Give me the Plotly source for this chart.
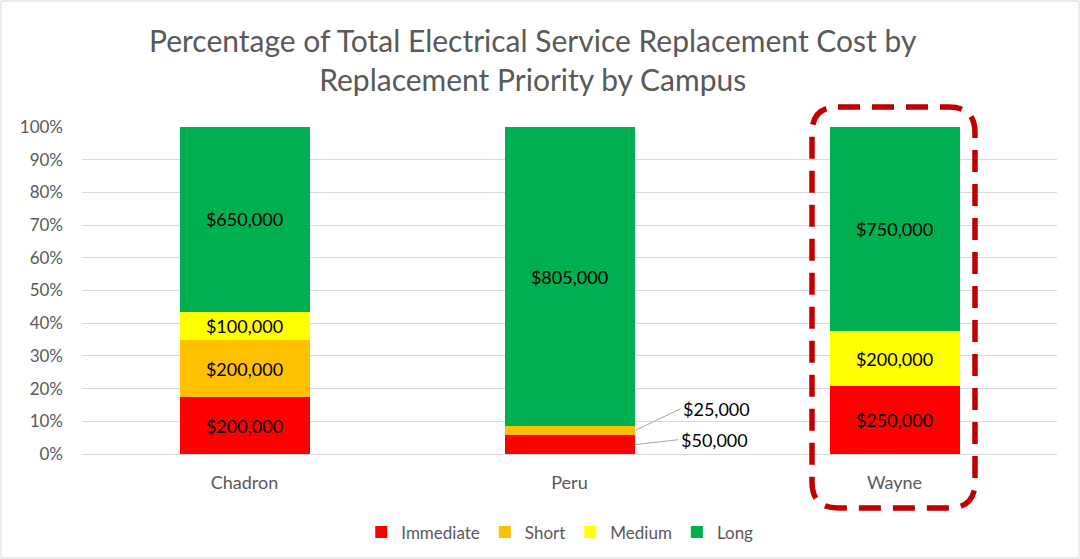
import plotly.graph_objects as go

campuses = ["Chadron", "Peru", "Wayne"]
priorities = ["Immediate", "Short", "Medium", "Long"]
immediate = [200000, 50000, 250000]
short = [200000, 25000, 0]
medium = [100000, 0, 200000]
long_ = [650000, 805000, 750000]
colors = {"Immediate": "#FF0000", "Short": "#FFC000", "Medium": "#FFFF00", "Long": "#00B050"}
series = {"Immediate": immediate, "Short": short, "Medium": medium, "Long": long_}
outside_campus = "Peru"  # small segments labelled outside with leader lines
title_text = "Percentage of Total Electrical Service Replacement Cost by<br>Replacement Priority by Campus"

FONT = "Lato"
GREY = "#595959"
W, H = 1080, 559
ML, MR, MT, MB = 82, 23, 127, 105
PW, PH = W - ML - MR, H - MT - MB

fig = go.Figure()
for p in priorities:
    vals = series[p]
    texts, pos = [], []
    for c, v in zip(campuses, vals):
        if v and not (c == outside_campus and p in ("Immediate", "Short")):
            texts.append(f"${v:,.0f}")
            pos.append("inside")
        else:
            texts.append("")
            pos.append("none")
    fig.add_trace(go.Bar(
        name=p, x=campuses, y=[v if v else None for v in vals],
        marker=dict(color=colors[p], line=dict(width=0)),
        text=texts, textposition=pos, insidetextanchor="middle",
        textangle=0, textfont=dict(color="#000000", size=18, family=FONT),
        width=0.4, hoverinfo="skip",
    ))

# leader-line labels for Peru small segments
i = campuses.index(outside_campus)
total = sum(series[p][i] for p in priorities)
cum = 0
offsets = {"Immediate": (44, -5), "Short": (46, -22)}
for p in priorities:
    v = series[p][i]
    if p in offsets and v:
        mid = (cum + v / 2) / total
        ax, ay = offsets[p]
        fig.add_annotation(
            x=i + 0.2, y=mid, xref="x", yref="y", text=f"${v:,.0f}",
            showarrow=True, arrowhead=0, arrowwidth=1, arrowcolor="#A6A6A6",
            ax=ax, ay=ay, xanchor="left", font=dict(size=18, color="#000000", family=FONT),
            standoff=0, startstandoff=0,
        )
    cum += v

# title as a centred annotation
fig.add_annotation(
    text=title_text, xref="paper", yref="paper",
    x=(533 - ML) / PW, y=1 + (MT - 60) / PH, xanchor="center", yanchor="middle",
    showarrow=False, align="center", font=dict(size=30, color=GREY, family=FONT),
)

# dashed rounded highlight around Wayne
x0, x1 = (812 - ML) / PW, (975 - ML) / PW
y1, y0 = (MT + PH - 107) / PH, (MT + PH - 508) / PH
rx, ry = 26 / PW, 26 / PH
path = (f"M {x0+rx},{y1} L {x1-rx},{y1} Q {x1},{y1} {x1},{y1-ry} "
        f"L {x1},{y0+ry} Q {x1},{y0} {x1-rx},{y0} L {x0+rx},{y0} "
        f"Q {x0},{y0} {x0},{y0+ry} L {x0},{y1-ry} Q {x0},{y1} {x0+rx},{y1} Z")
fig.add_shape(type="path", path=path, xref="paper", yref="paper",
              line=dict(color="#C00000", width=5.5, dash="22px,12px"))

# faint chart-area border
fig.add_shape(type="rect", xref="paper", yref="paper",
              x0=-(ML - 1) / PW, x1=1 + (MR - 1) / PW,
              y0=-(MB - 1) / PH, y1=1 + (MT - 1) / PH,
              line=dict(color="#D9D9D9", width=1), layer="below")

fig.update_layout(
    barmode="stack", barnorm="fraction",
    width=W, height=H,
    paper_bgcolor="white", plot_bgcolor="white",
    font=dict(family=FONT, color=GREY, size=17),
    margin=dict(l=ML, r=MR, t=MT, b=MB, autoexpand=False),
    xaxis=dict(showgrid=False, showline=True, linecolor="#D9D9D9", ticks="",
               automargin=False, ticklabelstandoff=12, tickfont=dict(size=18, color=GREY)),
    yaxis=dict(range=[0, 1], tickformat=".0%", dtick=0.1, showgrid=True, automargin=False,
               gridcolor="#D9D9D9", zeroline=False, ticks="", ticklabelstandoff=18,
               tickfont=dict(size=17, color=GREY)),
    legend=dict(orientation="h", x=0.49, xanchor="center", y=-0.185, yanchor="top",
                font=dict(size=17, color=GREY), itemwidth=30, traceorder="normal"),
    showlegend=True,
)

fig.write_html("out.html", config={"displayModeBar": False},
               post_script="document.body.style.margin='0';")
